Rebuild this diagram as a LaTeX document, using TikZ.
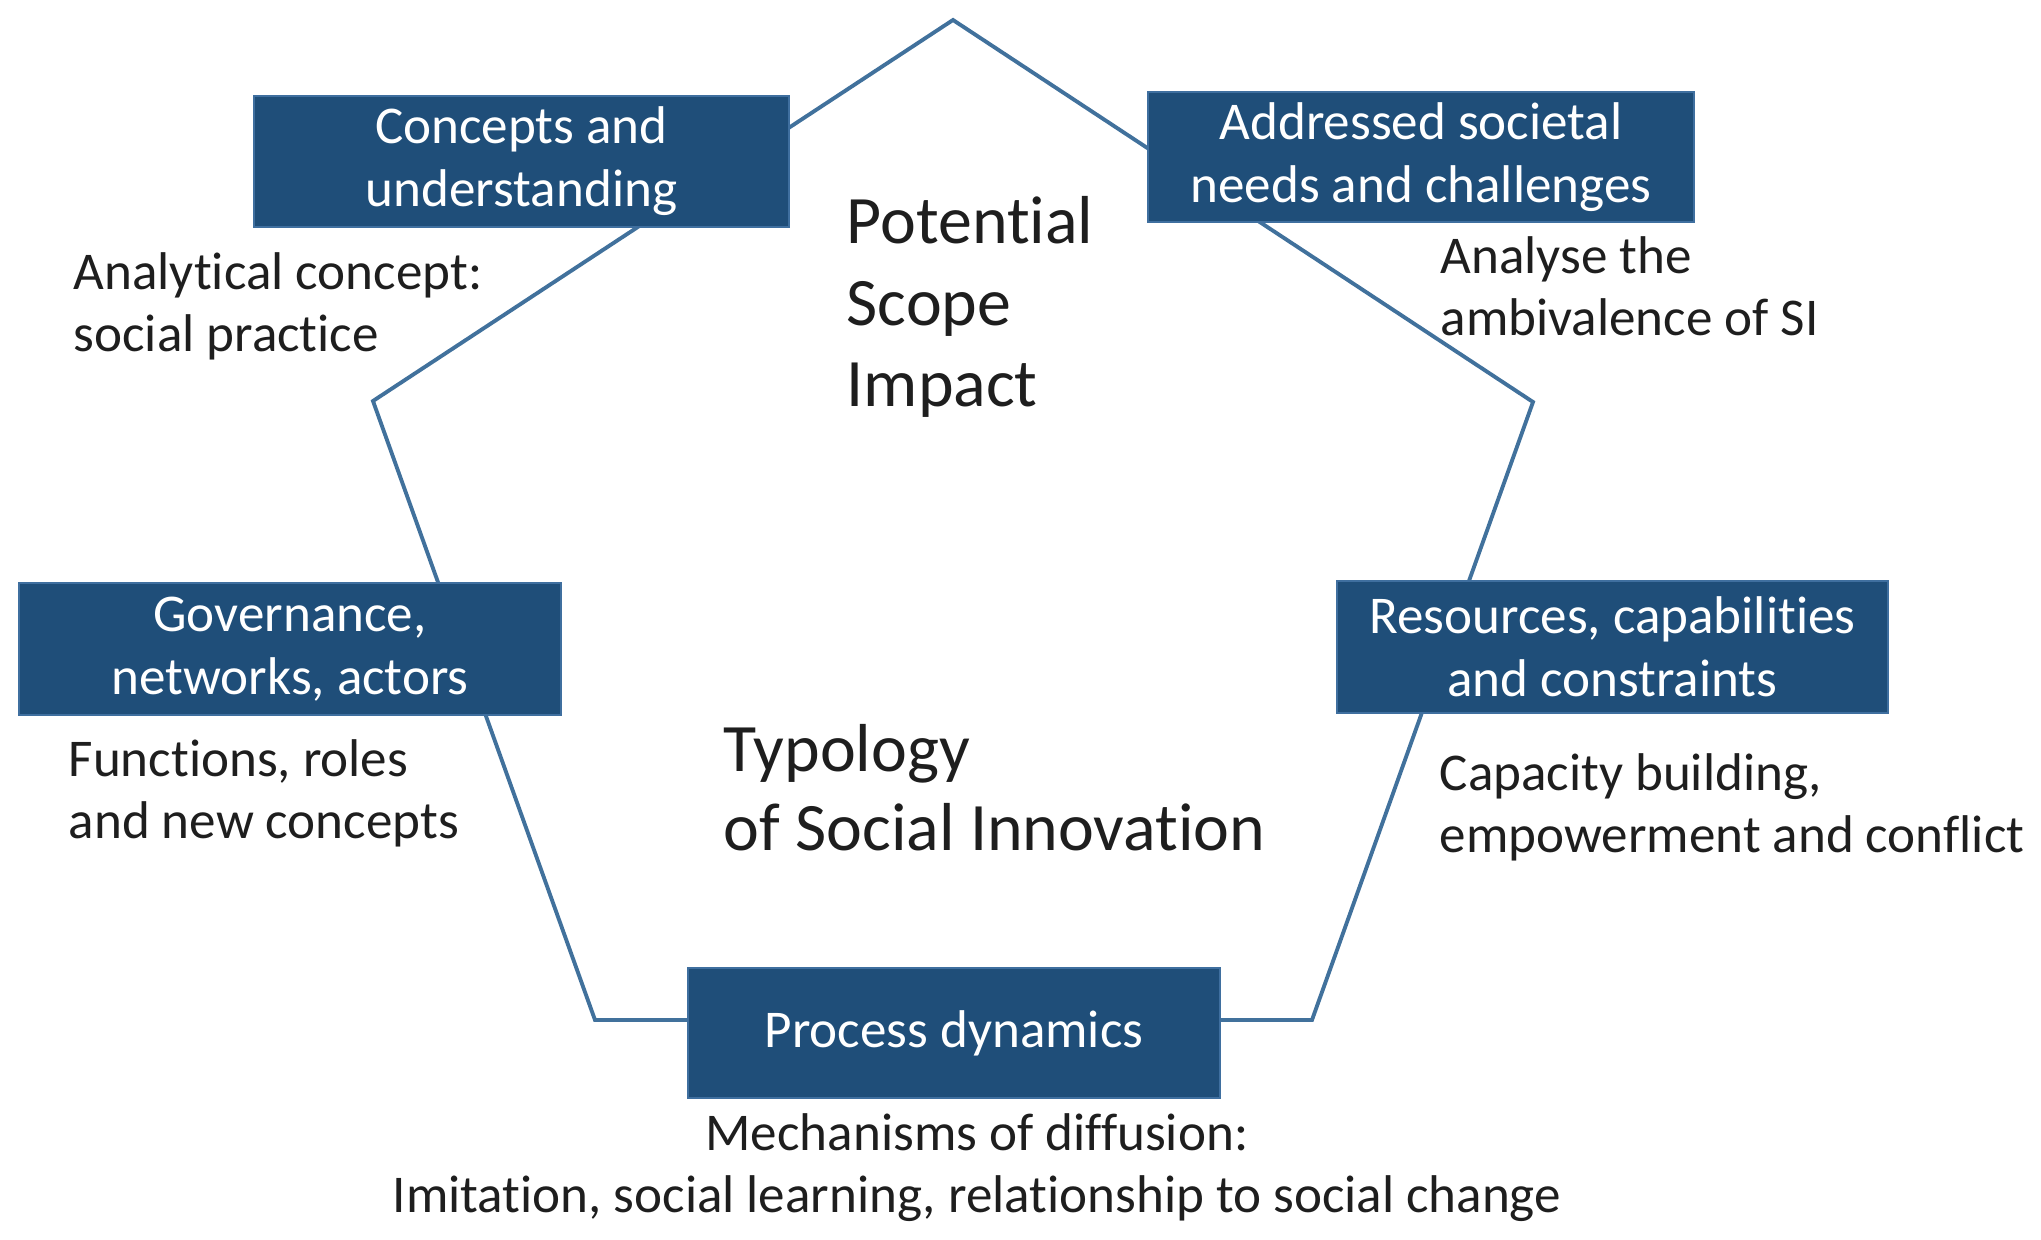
\documentclass[tikz,border=0pt]{standalone}
\usepackage{fontspec}
\setmainfont{Carlito}[Ligatures={NoCommon}]
\definecolor{boxblue}{HTML}{1F4E79}
\definecolor{boxedge}{HTML}{3F6F9F}
\definecolor{rimblue}{HTML}{41719C}
\definecolor{notegray}{HTML}{1E1E1E}
\begin{document}
\begin{tikzpicture}[x=0.01cm, y=-0.01cm,
	topic/.style={draw=boxedge, line width=0.6pt, fill=boxblue, text=white, align=center, inner sep=0pt, font=\fontsize{15.1}{17.9}\selectfont},
	note/.style={anchor=base west, align=left, inner sep=0pt, text=notegray, font=\fontsize{15.1}{17.9}\selectfont},
	theme/.style={anchor=base west, align=left, inner sep=0pt, text=notegray, font=\fontsize{19.3}{23}\selectfont}]

	\useasboundingbox (0,0) rectangle (2041,1240);

	\coordinate (top) at (953,20);
	\coordinate (upleft) at (373,401);
	\coordinate (upright) at (1533,402);
	\coordinate (lowleft) at (595,1020);
	\coordinate (lowright) at (1312,1020);

	\draw[rimblue, line width=1.1pt] (top) -- (upleft) -- (lowleft) -- (lowright) -- (upright) -- cycle;

	\node[topic, minimum width=5.35cm, minimum height=1.31cm] (concepts) at (521.5,161.5) {Concepts and\\understanding};
	\node[topic, minimum width=5.46cm, minimum height=1.30cm] (needs) at (1421,157) {Addressed societal\\needs and challenges};
	\node[topic, minimum width=5.41cm, minimum height=1.32cm] (governance) at (290,649) {Governance,\\networks, actors};
	\node[topic, minimum width=5.51cm, minimum height=1.32cm] (resources) at (1612.5,647) {Resources, capabilities\\and constraints};
	\node[topic, minimum width=5.32cm, minimum height=1.30cm] (process) at (954,1033) {Process dynamics};

	\node[note] (analytical) at (73,352) {Analytical concept:\\social practice};
	\node[note] (ambivalence) at (1440,336) {Analyse the\\ambivalence of SI};
	\node[note] (functions) at (68,839) {Functions, roles\\and new concepts};
	\node[note] (capacity) at (1439,853) {Capacity building,\\empowerment and conflict};
	\node[note, anchor=base, align=center] (diffusion) at (977,1213) {Mechanisms of diffusion:\\Imitation, social learning, relationship to social change};

	\node[theme, font=\fontsize{19.3}{23.3}\selectfont] (scope) at (846,407) {Potential\\Scope\\Impact};
	\node[theme, font=\fontsize{19.3}{22.5}\selectfont] (typology) at (723,851) {Typology\\of Social Innovation};

\end{tikzpicture}
\end{document}
